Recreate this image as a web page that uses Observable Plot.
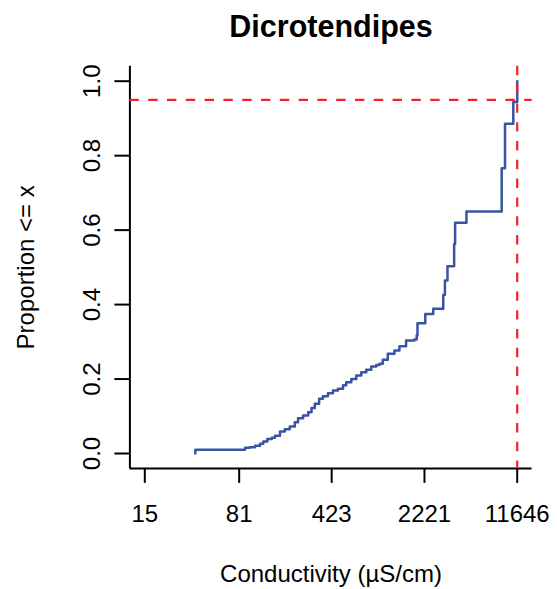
<!DOCTYPE html>
<html>
<head>
<meta charset="utf-8">
<script src="https://cdn.jsdelivr.net/npm/d3@7"></script>
<script src="https://cdn.jsdelivr.net/npm/@observablehq/plot@0.6"></script>
<style>
  html, body { margin: 0; padding: 0; background: #fff; }
  #chart { width: 557px; height: 589px; }
</style>
</head>
<body>
<div id="chart"></div>
<script>
// ---- data ----
const title = "Dicrotendipes";
const xLabel = "Conductivity (µS/cm)";
const yLabel = "Proportion <= x";
const xTicks = [15, 81, 423, 2221, 11646];
const xTickLabels = ["15", "81", "423", "2221", "11646"];
const yTicks = [0, 0.2, 0.4, 0.6, 0.8, 1.0];
// ECDF step points (conductivity, cumulative proportion)
const cond = [37, 37, 90, 98, 107.5, 117.6, 124.6, 134, 145, 153.5, 168, 183, 200, 219, 232, 254, 278, 295, 313, 338, 362, 396, 433, 473, 518, 549, 601, 657, 718, 785, 858, 938, 995, 1054, 1153, 1299, 1420, 1599, 1853, 1932, 1960, 2253, 2599, 3107, 3200, 3351, 3774, 3840, 4701, 8829, 9366, 10860, 11646];
const prop = [0, 0.01, 0.0153, 0.017, 0.0206, 0.026, 0.032, 0.039, 0.042, 0.048, 0.059, 0.065, 0.0725, 0.084, 0.095, 0.102, 0.111, 0.122, 0.1335, 0.147, 0.154, 0.162, 0.169, 0.174, 0.183, 0.1915, 0.2, 0.2095, 0.218, 0.225, 0.234, 0.238, 0.241, 0.252, 0.268, 0.277, 0.288, 0.3035, 0.306, 0.317, 0.350, 0.375, 0.389, 0.426, 0.465, 0.503, 0.563, 0.620, 0.650, 0.766, 0.886, 0.944, 1.0];
const refProp = [0.95];
const refCond = [11646];

// ---- build ----
const rows = cond.map((c, i) => ({c, p: prop[i]}));
const lo = xTicks[0], hi = xTicks[xTicks.length - 1];
const pad = Math.pow(hi / lo, 0.04);
const xDomain = [lo / pad, hi * pad];
const yDomain = [-0.04, 1.04];
const font = "'Liberation Sans', Arial, Helvetica, sans-serif";

const chart = Plot.plot({
  width: 557,
  height: 589,
  marginLeft: 129.4,
  marginRight: 25.4,
  marginTop: 65.8,
  marginBottom: 121.1,
  x: {type: "log", domain: xDomain},
  y: {domain: yDomain},
  style: {fontFamily: font, background: "white", color: "black", overflow: "visible"},
  marks: [
    Plot.ruleX([xDomain[0]], {stroke: "black", strokeWidth: 2}),
    Plot.ruleY([yDomain[0]], {stroke: "black", strokeWidth: 2}),
    Plot.axisX({ticks: xTicks, tickFormat: () => "", tickSize: 15, strokeWidth: 2, label: null}),
    Plot.text(xTicks, {x: d => d, text: (d, i) => xTickLabels[i], frameAnchor: "bottom", lineAnchor: "top", dy: 37, fontSize: 24, fill: "black"}),
    Plot.axisY({ticks: yTicks, tickFormat: d => d.toFixed(1), tickSize: 15, tickPadding: 15, tickRotate: -90, fontSize: 24, strokeWidth: 2, label: null}),
    Plot.line(rows, {x: "c", y: "p", curve: "step-after", stroke: "#3a54a4", strokeWidth: 2.5}),
    Plot.ruleY(refProp, {stroke: "#f0232b", strokeWidth: 2.2, strokeDasharray: "9.4,9.4"}),
    Plot.ruleX(refCond, {stroke: "#f0232b", strokeWidth: 2.2, strokeDasharray: "9.4,9.4"}),
    Plot.text([title], {frameAnchor: "top", lineAnchor: "top", dy: -51, fontSize: 30.5, fontWeight: "bold", fill: "black"}),
    Plot.text([xLabel], {frameAnchor: "bottom", lineAnchor: "bottom", dy: 114, fontSize: 24, fill: "black"}),
    Plot.text([yLabel], {frameAnchor: "left", textAnchor: "middle", lineAnchor: "middle", dx: -104, rotate: -90, fontSize: 24, fill: "black"})
  ]
});
document.getElementById("chart").appendChild(chart);
</script>
</body>
</html>
